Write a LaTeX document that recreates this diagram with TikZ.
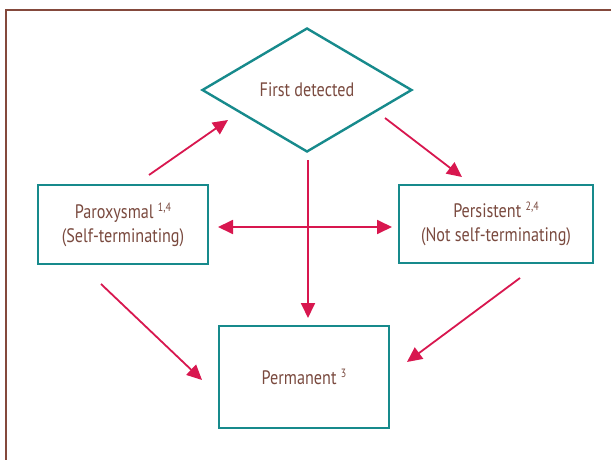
\documentclass[tikz,border=0pt]{standalone}
\usepackage{fontspec}
\setmainfont{PT Sans}[FakeStretch=0.83]
\usetikzlibrary{shapes.geometric,arrows.meta}
\definecolor{teal1}{HTML}{178A8C}
\definecolor{arrowred}{HTML}{D8174F}
\definecolor{txtbrown}{HTML}{7A4A3F}
\definecolor{framebrown}{HTML}{84493C}
\newcommand{\supr}[1]{\ {\fontsize{12}{12}\selectfont\raisebox{7pt}{#1}}}
\tikzset{
  box/.style={draw=teal1, line width=2.4pt, rectangle, inner sep=0pt, align=center,
    text=txtbrown, font=\fontsize{19.5}{24}\selectfont},
  dia/.style={draw=teal1, line width=2.4pt, diamond, inner sep=0pt, align=center,
    text=txtbrown, font=\fontsize{19.5}{24}\selectfont},
  arr/.style={draw=arrowred, line width=1.8pt, -{Triangle[length=15pt,width=14pt]}},
  dblarr/.style={draw=arrowred, line width=1.8pt, {Triangle[length=15pt,width=14pt]}-{Triangle[length=15pt,width=14pt]}}
}
\begin{document}
\begin{tikzpicture}[x=1pt,y=-1pt]
\useasboundingbox (0,0) rectangle (611,460);
\fill[white] (0,0) rectangle (611,460);
\draw[framebrown, line width=2.4pt] (6,461) -- (6,10) -- (612,10);

\node[dia, minimum width=210pt, minimum height=124pt] (first) at (307,90) {First detected};
\node[box, minimum width=170pt, minimum height=79pt] (par) at (123,224.5) {Paroxysmal\supr{1,4}\\(Self-terminating)};
\node[box, minimum width=194pt, minimum height=78pt] (per) at (496,224) {Persistent\supr{2,4}\\(Not self-terminating)};
\node[box, minimum width=170pt, minimum height=102pt] (perm) at (304,377) {Permanent\supr{3}};

\coordinate (a1s) at (149,175);
\coordinate (a1e) at (228,120);
\coordinate (a2s) at (385,118);
\coordinate (a2e) at (462,177);
\coordinate (a3s) at (101,284);
\coordinate (a3e) at (202,380);
\coordinate (a4s) at (520,278);
\coordinate (a4e) at (407,362);
\coordinate (v1) at (308,160);
\coordinate (v2) at (308,318);
\coordinate (h1) at (218,227);
\coordinate (h2) at (392,227);

\draw[arr] (a1s) -- (a1e);
\draw[arr] (a2s) -- (a2e);
\draw[arr] (a3s) -- (a3e);
\draw[arr] (a4s) -- (a4e);
\draw[arr] (v1) -- (v2);
\draw[dblarr] (h1) -- (h2);
\end{tikzpicture}
\end{document}
